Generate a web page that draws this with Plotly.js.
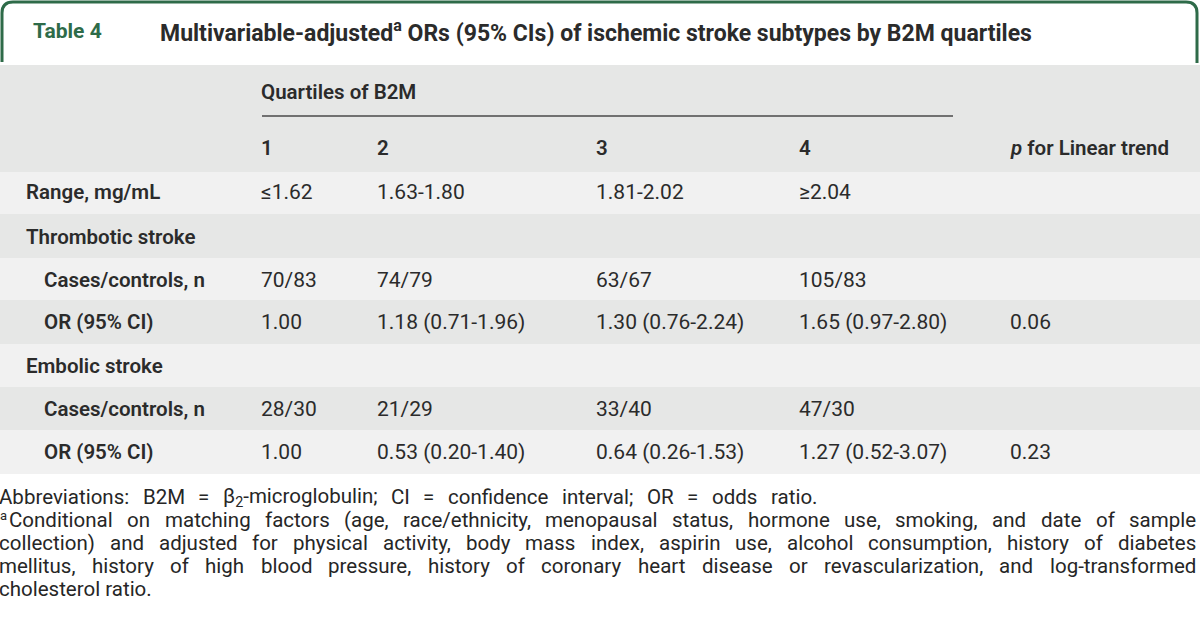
<!DOCTYPE html>
<html><head><meta charset="utf-8">
<script src="https://cdn.plot.ly/plotly-3.0.1.min.js"></script>
<style>html,body{margin:0;padding:0;background:#fff;}#chart{width:1200px;height:631px;}</style>
</head><body><div id="chart"></div>
<script>
// ---- data ----
const tableLabel = "Table 4";
const tableTitle = "Multivariable-adjusted<sup>a</sup> ORs (95% CIs) of ischemic stroke subtypes by B2M quartiles";
const groupHeader = "Quartiles of B2M";
const columnHeaders = ["1", "2", "3", "4", "<i>p</i> for Linear trend"];
const rowLabels = ["Range, mg/mL", "Thrombotic stroke", "Cases/controls, n", "OR (95% CI)", "Embolic stroke", "Cases/controls, n", "OR (95% CI)"];
const q1 = ["≤1.62", "", "70/83", "1.00", "", "28/30", "1.00"];
const q2 = ["1.63-1.80", "", "74/79", "1.18 (0.71-1.96)", "", "21/29", "0.53 (0.20-1.40)"];
const q3 = ["1.81-2.02", "", "63/67", "1.30 (0.76-2.24)", "", "33/40", "0.64 (0.26-1.53)"];
const q4 = ["≥2.04", "", "105/83", "1.65 (0.97-2.80)", "", "47/30", "1.27 (0.52-3.07)"];
const pTrend = ["", "", "", "0.06", "", "", "0.23"];
const footAbbrevWords = ["Abbreviations:", "B2M", "=", "β<sub>2</sub>-microglobulin;", "CI", "=", "confidence", "interval;", "OR", "=", "odds", "ratio."];
const footNoteLines = [
  "Conditional on matching factors (age, race/ethnicity, menopausal status, hormone use, smoking, and date of sample",
  "collection) and adjusted for physical activity, body mass index, aspirin use, alcohol consumption, history of diabetes",
  "mellitus, history of high blood pressure, history of coronary heart disease or revascularization, and log-transformed",
  "cholesterol ratio."
];

// ---- layout / style ----
const rowIndent = [0, 0, 1, 1, 0, 1, 1];
const colX = [259, 375, 594, 797, 1008];
const labelX = [24, 42];
const rowCenters = [192, 237, 280, 322, 366, 409, 452];
const bandEdges = [172, 214, 258, 300, 344, 387, 430, 474];
const DARK = "#e6e7e6", LIGHT = "#f1f1f1";
const TEXT = "#2b2b2b", GREEN = "#2e6b49";
const FONT = "Roboto, 'Liberation Sans', sans-serif";
const LABEL_SIZE = 20.5, VALUE_SIZE = 21;

const shapes = [];
const annotations = [];
shapes.push({type:"rect", xref:"x", yref:"y", x0:0, x1:1200, y0:65, y1:bandEdges[0], fillcolor:DARK, line:{width:0}, layer:"below"});
for (let i = 0; i < rowLabels.length; i++) {
  shapes.push({type:"rect", xref:"x", yref:"y", x0:0, x1:1200, y0:bandEdges[i], y1:bandEdges[i+1],
    fillcolor: (i % 2 === 0) ? LIGHT : DARK, line:{width:0}, layer:"below"});
}
shapes.push({type:"line", xref:"x", yref:"y", x0:262, x1:953, y0:116, y1:116, line:{color:"#4a4a4a", width:1.5}});
shapes.push({type:"path", xref:"x", yref:"y",
  path:"M 2,62 L 2,13 Q 2,2 13,2 L 1186,2 Q 1197,2 1197,13 L 1197,63",
  line:{color:GREEN, width:3}});

function txt(x, y, text, opts) {
  opts = opts || {};
  annotations.push({x:x, y:y, xref:"x", yref:"y", text:text, showarrow:false, xanchor:"left", yanchor:"middle",
    align:"left", xshift: opts.xshift || 0,
    font:{family:opts.family || FONT, size:opts.size || LABEL_SIZE, color:opts.color || TEXT, weight:opts.weight || 400}});
}
txt(31, 31, tableLabel, {size:21, weight:700, color:GREEN});
txt(158, 31, tableTitle, {size:23, weight:700});
txt(colX[0], 92, groupHeader, {weight:600});
columnHeaders.forEach((h, i) => txt(colX[i], 148, h, {weight:600}));

const valueCols = [q1, q2, q3, q4, pTrend];
rowLabels.forEach((lab, r) => {
  txt(labelX[rowIndent[r]], rowCenters[r], lab, {weight:600});
  valueCols.forEach((col, c) => { if (col[r]) txt(colX[c], rowCenters[r], col[r], {size:VALUE_SIZE}); });
});

// footnotes (word-placed to reproduce the justified setting)
const FOOT_SIZE = 20.5;
const FOOT_COLOR = "#262626";
const footY = [497, 520, 543, 566, 589];
const cv = document.createElement("canvas").getContext("2d");
function measure(w) {
  const plain = w.replace(/<sub>.*?<\/sub>/g, "");
  cv.font = "400 " + FOOT_SIZE + "px Roboto";
  let width = cv.measureText(plain).width;
  const subs = w.match(/<sub>(.*?)<\/sub>/g) || [];
  cv.font = "400 " + (FOOT_SIZE * 0.7) + "px Roboto";
  subs.forEach(s => { width += cv.measureText(s.replace(/<\/?sub>/g, "")).width; });
  return width;
}
function placeWords(words, y, x0, x1) {
  const widths = words.map(measure);
  const total = widths.reduce((a, b) => a + b, 0);
  const gap = (x1 - x0 - total) / (words.length - 1);
  let x = x0;
  words.forEach((w, i) => { txt(Math.max(x, 0), y, w, {size:FOOT_SIZE, color:FOOT_COLOR, xshift:-3 + Math.min(x, 0)}); x += widths[i] + gap; });
}
placeWords(footAbbrevWords, footY[0], 0, 818);
footNoteLines.forEach((line, li) => {
  const y = footY[li + 1];
  let startX = 0;
  if (li === 0) { txt(0, y - 5, "a", {size:13, color:FOOT_COLOR, xshift:-2}); startX = 10; }
  if (li === footNoteLines.length - 1) { txt(startX, y, line, {size:FOOT_SIZE, color:FOOT_COLOR, xshift:-3}); return; }
  placeWords(line.split(" "), y, startX, 1197);
});

const layout = {
  width:1200, height:631, margin:{l:0, r:0, t:0, b:0, pad:0},
  paper_bgcolor:"#ffffff", plot_bgcolor:"#ffffff", showlegend:false,
  xaxis:{range:[0,1200], visible:false, fixedrange:true},
  yaxis:{range:[631,0], visible:false, fixedrange:true},
  shapes:shapes, annotations:annotations
};
Plotly.newPlot("chart", [{x:[], y:[], type:"scatter", mode:"markers", hoverinfo:"skip"}], layout, {staticPlot:true, displayModeBar:false});
</script></body></html>
